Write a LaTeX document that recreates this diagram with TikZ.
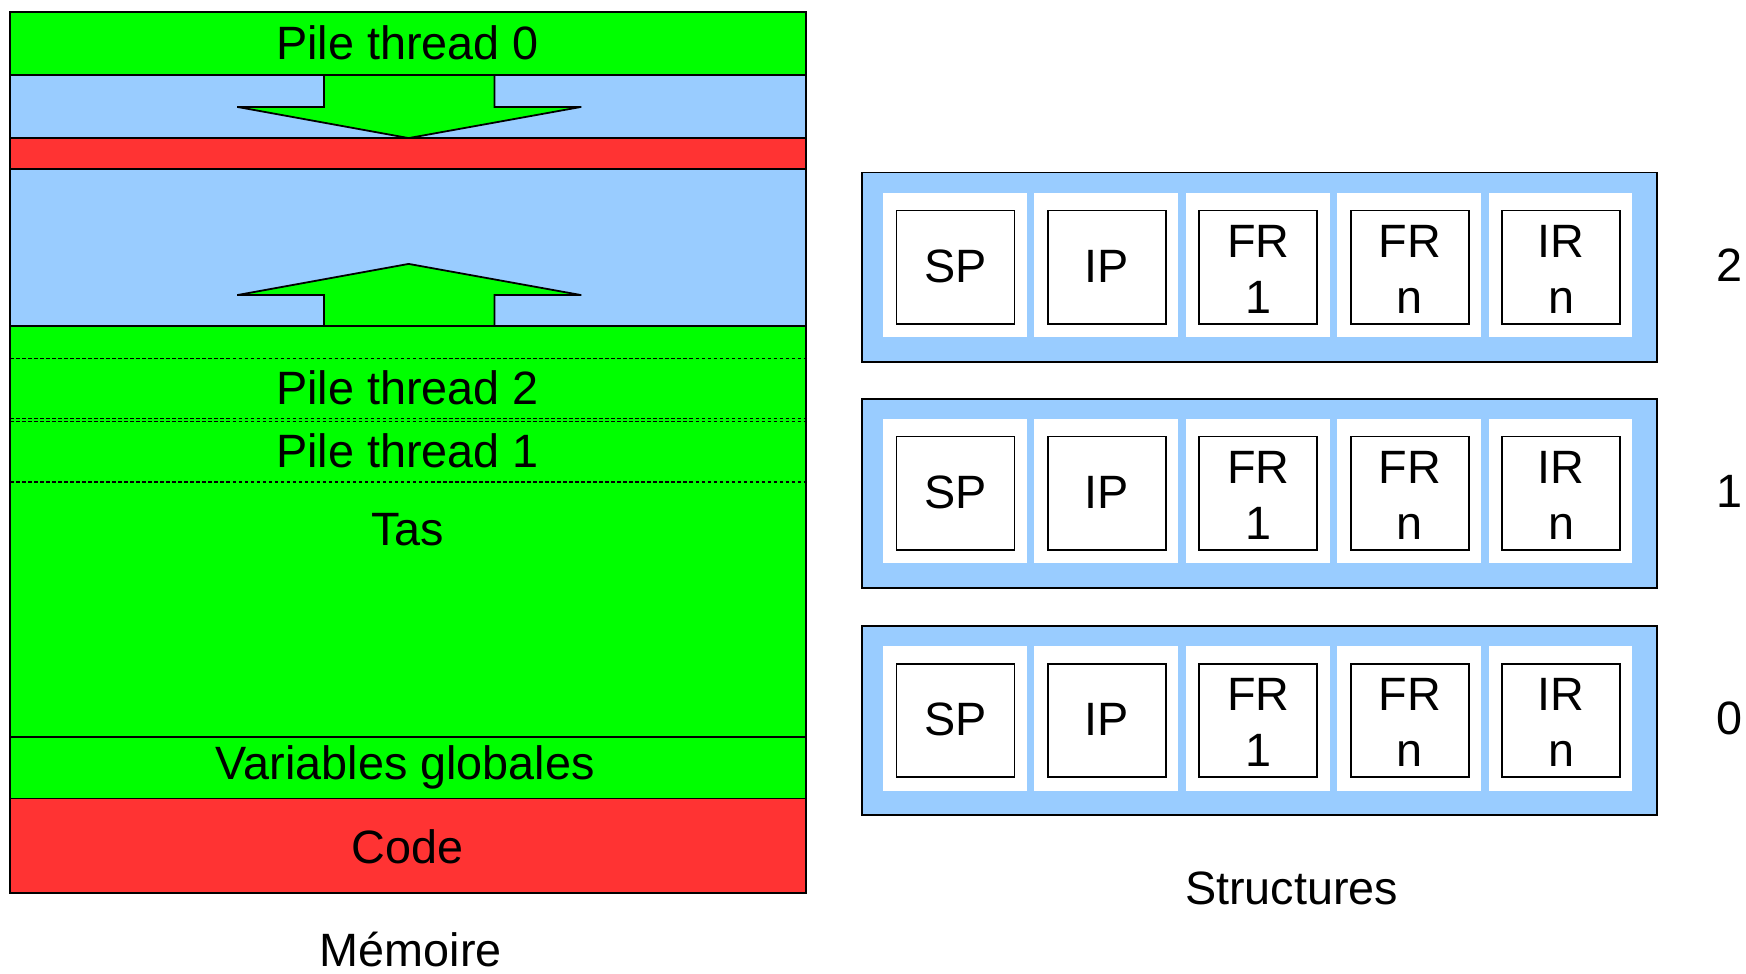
\documentclass[tikz,border=0pt]{standalone}
\usepackage{fontspec}
\setmainfont{Liberation Sans}
\definecolor{mgreen}{HTML}{00FF00}
\definecolor{mblue}{HTML}{99CCFF}
\definecolor{mred}{HTML}{FF3333}
\begin{document}
\begin{tikzpicture}[x=0.5pt,y=-0.5pt,line width=0.8pt,
  lbl/.style={font=\fontsize{21}{25}\selectfont, inner sep=0pt, align=center},
  sepline/.style={draw=black, line width=0.8pt},
  dotline/.style={draw=black, dash pattern=on 1.6pt off 1.1pt, line width=0.6pt},
  outerbox/.style={draw=black, fill=mblue, line width=0.8pt},
  cellw/.style={fill=white},
  regbox/.style={draw=black, fill=white, line width=0.8pt},
  arrowshape/.style={draw=black, fill=mgreen, line width=0.8pt, line join=miter}]
\useasboundingbox (0,0) rectangle (1568,874);

% ---------- Memory column ----------
\fill[mgreen] (9,11) rectangle (724,67);
\fill[mblue]  (9,67) rectangle (724,124);
\fill[mred]   (9,124) rectangle (724,152);
\fill[mblue]  (9,152) rectangle (724,293);
\fill[mgreen] (9,293) rectangle (724,717);
\fill[mred]   (9,717) rectangle (724,802);

% arrows
\filldraw[arrowshape] (291,67) -- (291,96) -- (213,96) -- (367,124) -- (522,96) -- (444,96) -- (444,67);
\filldraw[arrowshape] (291,293) -- (291,265) -- (213,265) -- (367,237) -- (522,265) -- (444,265) -- (444,293);

% separators
\foreach \yy in {67,124,152,293,662,717}
  \draw[sepline] (9,\yy) -- (724,\yy);
\foreach \yy in {322,376,378.6,433}
  \draw[dotline] (9,\yy) -- (724,\yy);
\draw[sepline] (9,11) rectangle (724,802);

% labels
\node[lbl] (p0) at (366,38) {Pile thread 0};
\node[lbl] (p2) at (366,348) {Pile thread 2};
\node[lbl] (p1) at (366,405) {Pile thread 1};
\node[lbl] (tas) at (366,476) {Tas};
\node[lbl] (vg) at (364,689) {Variables globales};
\node[lbl] (code) at (366,760) {Code};
\node[lbl] (mem) at (369,853) {Mémoire};

% ---------- Structures ----------
\foreach \id/\top/\lab in {2/155/2, 1/358/1, 0/562/0} {
  \draw[outerbox] (774,\top) rectangle (1488,\top+170);
  \foreach \i/\txt/\dy in {0/SP/-1, 1/IP/-1, 2/{FR\\1}/2, 3/{FR\\n}/2, 4/{IR\\n}/2} {
    \fill[cellw] (793+\i*136,\top+18) rectangle (922+\i*136,\top+148);
    \draw[regbox] (805+\i*136,\top+34) rectangle (911+\i*136,\top+136);
    \node[lbl] (r\id\i) at (858+\i*136,\top+85+\dy) {\txt};
  }
  \node[lbl] (n\id) at (1553,\top+83) {\lab};
}
\node[lbl] (st) at (1160,798) {Structures};
\end{tikzpicture}
\end{document}
